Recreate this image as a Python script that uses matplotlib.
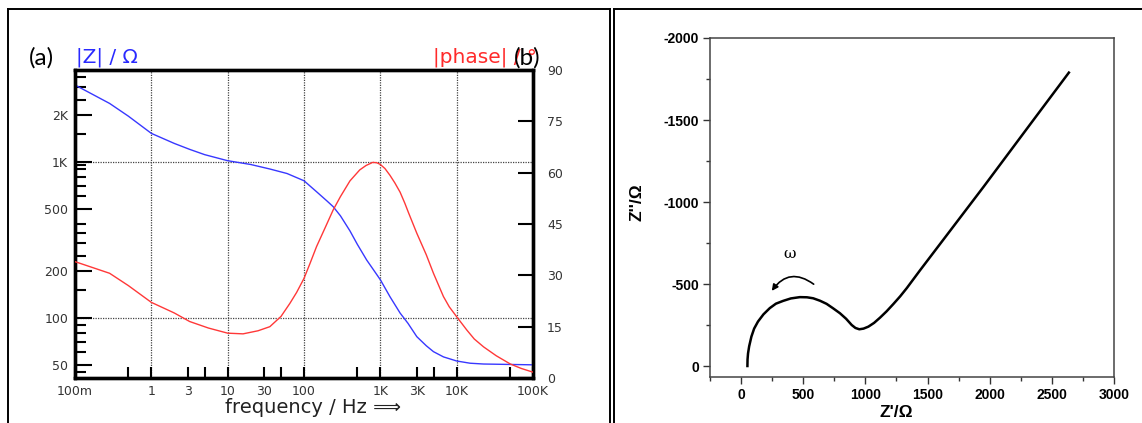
import matplotlib
matplotlib.use("Agg")
import matplotlib.pyplot as plt
from matplotlib.ticker import FixedLocator, FixedFormatter, NullFormatter
from matplotlib.lines import Line2D

plt.rcParams["axes.unicode_minus"] = False

W, H = 1142, 423

# (a) Bode plot
z_freq = [0.1, 0.284, 0.5, 1, 2, 3.18, 5, 10, 20, 35.7, 60, 100, 146, 200, 241,
          300, 400, 500, 663, 800, 1000, 1340, 1815, 2300, 3005, 4000, 4966,
          6710, 10000, 15000, 22500, 100000]
z_mag = [3105, 2365, 1960, 1520, 1310, 1200, 1110, 1015, 960, 898, 840, 755,
         642, 560, 515, 450, 360, 295, 234, 205, 175, 136, 107, 92, 75.5, 66,
         60.5, 56, 52.7, 51, 50.4, 49.8]

ph_freq = [0.1, 0.284, 0.5, 1, 2, 3.18, 5.6, 10, 15.9, 25, 35.7, 50, 65.3, 80,
           100, 120, 146, 190, 241, 300, 400, 537, 650, 794, 900, 1000, 1150,
           1340, 1550, 1815, 2100, 2330, 3005, 4000, 4966, 6710, 8000, 10000,
           13600, 17000, 22500, 33000, 50350, 70000, 100000]
phase = [34.0, 30.6, 27.0, 22.1, 19.0, 16.5, 14.6, 13.1, 12.9, 13.8, 15.0, 18.0,
         21.8, 25.0, 29.1, 33.5, 38.4, 44.0, 49.1, 53.0, 57.6, 60.8, 62.1, 63.0,
         62.9, 62.4, 61.2, 59.2, 57.0, 54.3, 51.0, 48.4, 42.3, 36.0, 30.6, 23.8,
         20.8, 17.9, 14.0, 11.4, 9.1, 6.5, 4.1, 2.8, 1.7]

f_ticks = [0.1, 1, 3, 10, 30, 100, 1000, 3000, 10000, 100000]
f_labels = ["100m", "1", "3", "10", "30", "100", "1K", "3K", "10K", "100K"]
f_minor = [0.5, 5, 50, 500, 5000, 50000]
f_grid = [1, 10, 100, 1000, 10000]

z_ticks = [50, 100, 200, 500, 1000, 2000]
z_labels = ["50", "100", "200", "500", "1K", "2K"]
z_minor = [45, 60, 70, 80, 90, 150, 250, 300, 350, 400, 600, 700, 800, 900,
           950, 1500, 2500, 3000, 3500]
z_grid = [100, 1000]
ph_ticks = [0, 15, 30, 45, 60, 75, 90]

# (b) Nyquist plot
zr = [51, 52, 56, 65, 83, 105, 136, 180, 231, 280, 338, 400, 473, 530, 580,
      635, 688, 740, 795, 845, 890, 920, 951, 985, 1024, 1070, 1118, 1170,
      1225, 1280, 1333, 1441, 1683, 1951, 2328, 2637]
zi = [0, -40, -77, -120, -179, -228, -271, -315, -353, -380, -397, -412, -420,
      -419, -413, -398, -379, -352, -322, -288, -250, -232, -224, -228, -240,
      -263, -295, -333, -378, -425, -475, -585, -826, -1093, -1476, -1789]


def box(x, y, w, h):
    return [x / W, 1 - (y + h) / H, w / W, h / H]


def px_line(fig, x0, y0, x1, y1, lw=1.4):
    fig.add_artist(Line2D([x0 / W, x1 / W], [1 - y0 / H, 1 - y1 / H],
                          transform=fig.transFigure, color="black", lw=lw))


fig = plt.figure(figsize=(W / 100, H / 100), dpi=100)

# panel frames
px_line(fig, 7.5, 9.5, 610, 9.5)
px_line(fig, 7.5, 9.5, 7.5, 423)
px_line(fig, 610, 9.5, 610, 423)
px_line(fig, 614, 9.5, 1142, 9.5)
px_line(fig, 614, 9.5, 614, 423)

# ---- left panel
ax = fig.add_axes(box(75, 70, 458, 308))
ax.set_xscale("log")
ax.set_yscale("log")
ax.set_xlim(0.1, 1e5)
ax.set_ylim(41, 3875)
for f in f_grid:
    ax.axvline(f, color="#444444", lw=0.9, ls=(0, (1, 1)), zorder=1)
for z in z_grid:
    ax.axhline(z, color="#444444", lw=0.9, ls=(0, (1, 1)), zorder=1)
ax.plot(z_freq, z_mag, color="#3838ff", lw=1.0, zorder=3)

ax.xaxis.set_major_locator(FixedLocator(f_ticks))
ax.xaxis.set_major_formatter(FixedFormatter(f_labels))
ax.xaxis.set_minor_locator(FixedLocator(f_minor))
ax.xaxis.set_minor_formatter(NullFormatter())
ax.yaxis.set_major_locator(FixedLocator(z_ticks))
ax.yaxis.set_major_formatter(FixedFormatter(z_labels))
ax.yaxis.set_minor_locator(FixedLocator(z_minor))
ax.yaxis.set_minor_formatter(NullFormatter())
ax.tick_params(axis="x", which="both", direction="in", length=8, width=1.5,
               pad=5, labelsize=9, labelcolor="#333333", top=False)
ax.tick_params(axis="y", which="major", direction="in", length=12, width=1.5,
               pad=5, labelsize=9, labelcolor="#333333", right=False)
ax.tick_params(axis="y", which="minor", direction="in", length=8, width=1.5,
               right=False)

axr = ax.twinx()
axr.set_ylim(0, 90)
axr.plot(ph_freq, phase, color="#ff3838", lw=1.0, zorder=3)
axr.set_yticks(ph_ticks)
axr.tick_params(axis="y", direction="in", length=11, width=1.5, pad=10,
                labelsize=9, labelcolor="#333333")
for a in (ax, axr):
    for s in a.spines.values():
        s.set_linewidth(2.4)

fig.text(29 / W, 1 - 58 / H, "(a)", fontsize=17.5, family="Lato", va="center")
fig.text(76 / W, 1 - 57 / H, "|Z| / Ω", color="#2a2aff", fontsize=14.5,
         va="center")
fig.text(537 / W, 1 - 57 / H, "|phase| / °", color="#ff2a2a", fontsize=14.5,
         ha="right", va="center")
fig.text(514 / W, 1 - 58 / H, "(b)", fontsize=17.5, family="Lato", va="center")
fig.text(313 / W, 1 - 407 / H, "frequency / Hz ⟹", fontsize=14,
         color="#222222", ha="center", va="center")

# ---- right panel
axn = fig.add_axes(box(710, 38, 404, 339))
axn.plot(zr, zi, color="black", lw=1.8)
axn.set_xlim(-250, 3000)
axn.set_ylim(67, -2000)
axn.set_xticks(range(0, 3001, 500))
axn.set_xticks([-250, 250, 750, 1250, 1750, 2250, 2750], minor=True)
axn.set_yticks(range(0, -2001, -500))
axn.set_yticks([-250, -750, -1250, -1750], minor=True)
axn.tick_params(which="major", direction="out", length=5, width=1,
                color="#333333", labelsize=10, pad=3)
axn.tick_params(which="minor", direction="out", length=3, width=1,
                color="#333333")
for lbl in axn.get_xticklabels() + axn.get_yticklabels():
    lbl.set_fontweight("bold")
    lbl.set_family("Liberation Sans")
for s in axn.spines.values():
    s.set_linewidth(1.1)
    s.set_color("#444444")

axn.set_xlabel("Z'/Ω", fontsize=12.5, fontweight="bold", family="Liberation Sans")
axn.set_ylabel("Z''/Ω", fontsize=12.5, fontweight="bold", family="Liberation Sans")
axn.xaxis.set_label_coords(0.46, -0.083)
axn.yaxis.set_label_coords(-0.163, 0.516)

axn.annotate("", xy=(247, -458), xytext=(584, -499),
             arrowprops=dict(arrowstyle="-|>", connectionstyle="arc3,rad=0.5",
                             color="black", lw=1.2, mutation_scale=9,
                             shrinkA=0, shrinkB=0))
axn.text(390, -682, "ω", ha="center", va="center", fontsize=11,
         family="DejaVu Serif")

fig.savefig("out.png", dpi=100)
